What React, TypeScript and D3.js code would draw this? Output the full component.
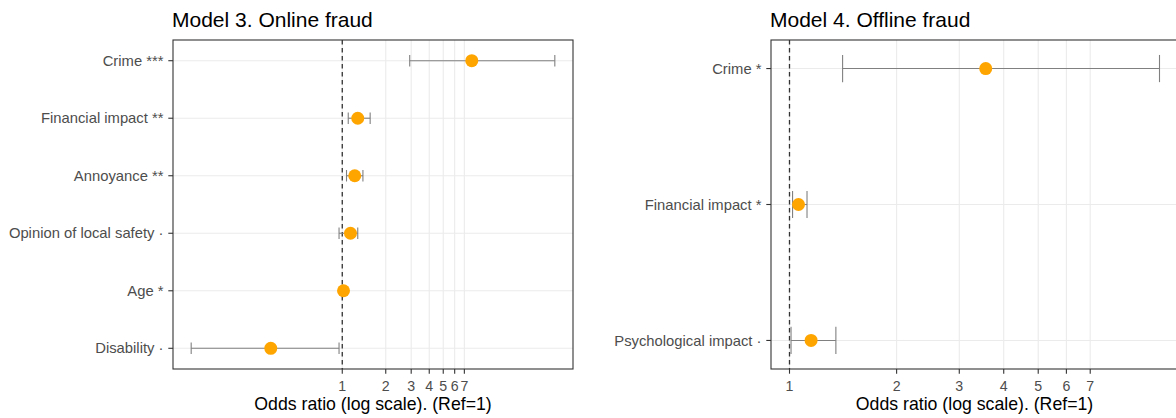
import React from "react";
import * as d3 from "d3";

// Model 3: online fraud — odds ratios with 95% CIs
const onlineTerms = [
  "Crime ***",
  "Financial impact **",
  "Annoyance **",
  "Opinion of local safety ·",
  "Age *",
  "Disability ·",
];
const onlineOR = [7.88, 1.28, 1.22, 1.14, 1.02, 0.32];
const onlineLow = [2.93, 1.1, 1.07, 0.95, 1.01, 0.09];
const onlineHigh = [29.6, 1.56, 1.39, 1.28, 1.03, 0.95];

// Model 4: offline fraud
const offlineTerms = ["Crime *", "Financial impact *", "Psychological impact ·"];
const offlineOR = [3.56, 1.06, 1.15];
const offlineLow = [1.41, 1.02, 1.01];
const offlineHigh = [10.96, 1.12, 1.35];

const xTicks = [1, 2, 3, 4, 5, 6, 7];
const xTitle = "Odds ratio (log scale). (Ref=1)";

const W = 1176;
const H = 418;
const TOP = 40;
const BOTTOM = 369;
const CAP = 0.2; // errorbar cap height, in row units
const FONT = "'Liberation Sans', Arial, Helvetica, sans-serif";

type PanelProps = {
  title: string;
  terms: string[];
  est: number[];
  lo: number[];
  hi: number[];
  x0: number;
  x1: number;
};

function Panel({ title, terms, est, lo, hi, x0, x1 }: PanelProps) {
  const n = terms.length;
  const lMin = Math.log10(Math.min(d3.min(lo) as number, 1));
  const lMax = Math.log10(d3.max(hi) as number);
  const lPad = (lMax - lMin) * 0.05;
  const x = d3
    .scaleLog()
    .domain([Math.pow(10, lMin - lPad), Math.pow(10, lMax + lPad)])
    .range([x0, x1]);

  const yLo = 1 - CAP / 2;
  const yHi = n + CAP / 2;
  const yPad = (yHi - yLo) * 0.05;
  const y = d3.scaleLinear().domain([yLo - yPad, yHi + yPad]).range([BOTTOM, TOP]);
  const rowY = (i: number) => y(n - i);
  const capHalf = Math.abs(y(CAP / 2) - y(0));

  return (
    <g fontFamily={FONT}>
      <text x={x0 - 1} y={27} fontSize={21} fill="#000">
        {title}
      </text>
      <rect x={x0} y={TOP} width={x1 - x0} height={BOTTOM - TOP} fill="#fff" />
      {/* grid */}
      {xTicks.map((t) => (
        <line
          key={"gx" + t}
          x1={x(t)}
          x2={x(t)}
          y1={TOP}
          y2={BOTTOM}
          stroke="#EBEBEB"
          strokeWidth={1.1}
        />
      ))}
      {terms.map((t, i) => (
        <line
          key={"gy" + t}
          x1={x0}
          x2={x1}
          y1={rowY(i)}
          y2={rowY(i)}
          stroke="#EBEBEB"
          strokeWidth={1.1}
        />
      ))}
      {/* reference line at OR = 1 */}
      <line
        x1={x(1)}
        x2={x(1)}
        y1={TOP}
        y2={BOTTOM}
        stroke="#333"
        strokeWidth={1.3}
        strokeDasharray="4.5,3.5"
      />
      {/* confidence intervals */}
      {terms.map((t, i) => {
        const cy = rowY(i);
        return (
          <g key={"ci" + t} stroke="#808080" strokeWidth={1.1}>
            <line x1={x(lo[i])} x2={x(hi[i])} y1={cy} y2={cy} />
            <line x1={x(lo[i])} x2={x(lo[i])} y1={cy - capHalf} y2={cy + capHalf} />
            <line x1={x(hi[i])} x2={x(hi[i])} y1={cy - capHalf} y2={cy + capHalf} />
          </g>
        );
      })}
      {terms.map((t, i) => (
        <circle key={"pt" + t} cx={x(est[i])} cy={rowY(i)} r={6.5} fill="#FFA500" />
      ))}
      <rect
        x={x0}
        y={TOP}
        width={x1 - x0}
        height={BOTTOM - TOP}
        fill="none"
        stroke="#333"
        strokeWidth={1.1}
      />
      {/* y axis */}
      {terms.map((t, i) => (
        <g key={"yl" + t}>
          <line x1={x0 - 4.7} x2={x0} y1={rowY(i)} y2={rowY(i)} stroke="#333" strokeWidth={1.1} />
          <text
            x={x0 - 9.5}
            y={rowY(i)}
            dy="0.35em"
            textAnchor="end"
            fontSize={14.8}
            fill="#4D4D4D"
          >
            {t}
          </text>
        </g>
      ))}
      {/* x axis */}
      {xTicks.map((t) => (
        <g key={"xt" + t}>
          <line x1={x(t)} x2={x(t)} y1={BOTTOM} y2={BOTTOM + 4.7} stroke="#333" strokeWidth={1.1} />
          <text x={x(t)} y={390.5} textAnchor="middle" fontSize={14.2} fill="#4D4D4D">
            {t}
          </text>
        </g>
      ))}
      <text x={(x0 + x1) / 2} y={410} textAnchor="middle" fontSize={17.7} fill="#000">
        {xTitle}
      </text>
    </g>
  );
}

export default function App() {
  return (
    <svg
      width={W}
      height={H}
      style={{ position: "absolute", left: 0, top: 0, background: "#fff" }}
    >
      <rect width={W} height={H} fill="#fff" />
      <Panel
        title="Model 3. Online fraud"
        terms={onlineTerms}
        est={onlineOR}
        lo={onlineLow}
        hi={onlineHigh}
        x0={173}
        x1={573}
      />
      <Panel
        title="Model 4. Offline fraud"
        terms={offlineTerms}
        est={offlineOR}
        lo={offlineLow}
        hi={offlineHigh}
        x0={771}
        x1={1178}
      />
    </svg>
  );
}
